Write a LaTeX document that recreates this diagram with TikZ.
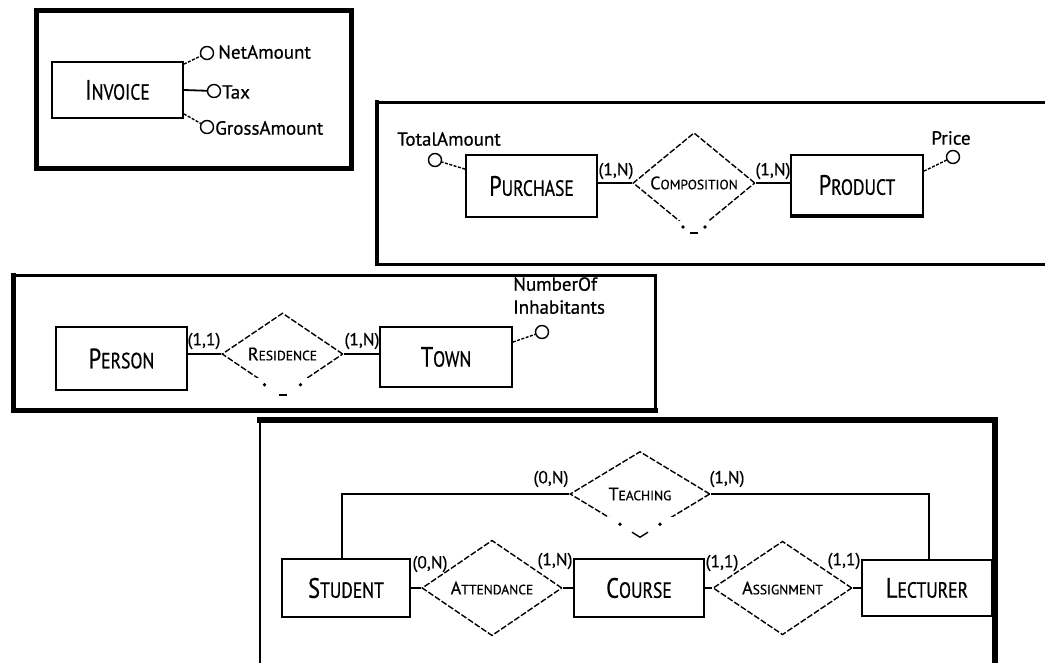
\documentclass[tikz,border=0pt]{standalone}
\usepackage{fontspec}
\setmainfont[FakeBold=0.6]{PT Sans}
\newfontfamily\entfont[FakeStretch=0.8,FakeBold=0.6]{PT Sans}
\usetikzlibrary{shapes.geometric}
\newcommand\entname[2]{{\entfont\fontsize{28}{30}\selectfont #1\fontsize{22}{24}\selectfont #2}}
\newcommand\relname[2]{{\fontsize{18}{20}\selectfont #1\fontsize{13.5}{15}\selectfont #2}}
\tikzset{
  entity/.style={draw, line width=1.8pt, minimum width=131pt, minimum height=59pt, inner sep=0pt},
  relation/.style={diamond, draw, line width=1.4pt, dash pattern=on 6pt off 2pt, inner sep=0pt, minimum width=140pt, minimum height=81pt},
  attrc/.style={circle, draw, line width=1.4pt, minimum size=13pt, inner sep=0pt, fill=white},
  attrtxt/.style={font=\fontsize{19}{23}\selectfont, inner sep=0pt},
  card/.style={font=\fontsize{17.5}{19}\selectfont, inner sep=0pt},
  link/.style={line width=1.8pt},
  alink/.style={line width=1.4pt, dash pattern=on 3pt off 1.5pt},
  gapdot/.style={fill=black}
}
\begin{document}
\begin{tikzpicture}[x=1pt,y=-1pt]
\useasboundingbox (0,0) rectangle (1045,662);
\clip (0,0) rectangle (1045,662);
\fill[white] (0,0) rectangle (1045,662);

% ---------- panel frames ----------
\draw[line width=5pt] (36,10) rectangle (351,168);
\draw[line width=3pt, line cap=rect] (377,102) -- (1050,102);
\draw[line width=3pt] (377,264) -- (1050,264);
\draw[line width=4.5pt, line cap=rect] (377,102) -- (377,264);
\draw[line width=3pt] (13,275) -- (655,275) -- (655,410);
\draw[line width=5pt, line cap=rect] (13,275) -- (13,410) -- (655,410);
\draw[line width=2.5pt] (260,420) -- (260,670);
\draw[line width=5.5pt, line cap=rect] (260,420) -- (995,420) -- (995,670);

% ---------- panel 1: INVOICE ----------
\node[entity, minimum height=56pt] (invoice) at (117.5,90) {\entname{I}{NVOICE}};
\node[attrc] (netc) at (207,53) {};
\node[attrtxt, anchor=west] (netl) at (218,52) {NetAmount};
\node[attrc] (taxc) at (214,91) {};
\node[attrtxt, anchor=west] (taxl) at (222,92) {Tax};
\node[attrc] (grossc) at (207,127) {};
\node[attrtxt, anchor=west] (grossl) at (215,128) {GrossAmount};
\draw[alink] ([yshift=-3pt]invoice.north east) -- (netc);
\draw[link] (invoice.east) -- (taxc);
\draw[alink] ([yshift=5pt]invoice.south east) -- (grossc);

% ---------- panel 2: PURCHASE / PRODUCT ----------
\node[entity, minimum height=62pt] (purchase) at (531.5,186) {\entname{P}{URCHASE}};
\node[entity, minimum width=132pt, minimum height=60pt] (product) at (857,185) {\entname{P}{RODUCT}};
\draw[line width=3.5pt] (product.south west) -- (product.south east);
\node[relation, minimum width=122pt, minimum height=74pt] (compo) at (694,183) {\relname{C}{OMPOSITION}};
% broken bottom of the diamond
\fill[white] ([xshift=-30pt,yshift=13pt]compo.south) rectangle ([xshift=30pt,yshift=-3pt]compo.south);
\fill[gapdot] ([xshift=-11pt,yshift=7pt]compo.south) circle (1.8pt);
\fill[gapdot] ([xshift=11pt,yshift=7pt]compo.south) circle (1.8pt);
\draw[line width=1.4pt] ([xshift=-4pt,yshift=1pt]compo.south) -- ([xshift=4pt,yshift=1pt]compo.south);
\draw[link] (compo.west) -- (compo.west -| purchase.east);
\draw[link] (compo.east) -- (compo.east -| product.west);
\node[card] (c1) at (616,171) {(1,N)};
\node[card] (c2) at (773,171) {(1,N)};
\node[attrc] (totc) at (435,160) {};
\node[attrtxt] (totl) at (449,139) {TotalAmount};
\draw[alink] ([yshift=-15pt]purchase.north west) -- (totc);
\node[attrc] (pricec) at (953,157) {};
\node[attrtxt] (pricel) at (951,138) {Price};
\draw[alink] ([yshift=-17pt]product.north east) -- (pricec);

% ---------- panel 3: PERSON / TOWN ----------
\node[entity, minimum height=63pt] (person) at (121.5,358.5) {\entname{P}{ERSON}};
\node[entity, minimum width=132pt, minimum height=60pt] (town) at (446,357) {\entname{T}{OWN}};
\node[relation, minimum width=121pt, minimum height=76pt] (resid) at (282.5,354) {\relname{R}{ESIDENCE}};
\fill[white] ([xshift=-34pt,yshift=18pt]resid.south) rectangle ([xshift=34pt,yshift=-3pt]resid.south);
\fill[gapdot] ([xshift=-18pt,yshift=11pt]resid.south) circle (1.8pt);
\fill[gapdot] ([xshift=18pt,yshift=11pt]resid.south) circle (1.8pt);
\draw[line width=1.6pt] ([xshift=-4pt,yshift=1pt]resid.south) -- ([xshift=4pt,yshift=1pt]resid.south);
\draw[link] (resid.west) -- (resid.west -| person.east);
\draw[link] (resid.east) -- (resid.east -| town.west);
\node[card] (c3) at (204,341) {(1,1)};
\node[card] (c4) at (362,341) {(1,N)};
\node[attrc] (inhc) at (542,332) {};
\node[attrtxt, anchor=north west, align=left] (inhl) at (513,277) {NumberOf\\Inhabitants};
\draw[alink] ([yshift=-16pt]town.north east) -- (inhc);

% ---------- panel 4: STUDENT / COURSE / LECTURER ----------
\node[entity, minimum width=128pt, minimum height=58pt] (student) at (346,588) {\entname{S}{TUDENT}};
\node[entity, minimum width=130pt, minimum height=58pt] (course) at (639,588) {\entname{C}{OURSE}};
\node[entity, minimum width=130pt, minimum height=56pt] (lecturer) at (927,588) {\entname{L}{ECTURER}};
\node[relation, minimum height=85pt] (teach) at (640,494) {\relname{T}{EACHING}};
\fill[white] ([xshift=-36pt,yshift=20pt]teach.south) rectangle ([xshift=36pt,yshift=-3pt]teach.south);
\fill[gapdot] ([xshift=-20pt,yshift=13pt]teach.south) circle (1.8pt);
\fill[gapdot] ([xshift=20pt,yshift=13pt]teach.south) circle (1.8pt);
\draw[line width=1.4pt] ([xshift=-8pt,yshift=5pt]teach.south) -- (teach.south) -- ([xshift=8pt,yshift=5pt]teach.south);
\node[relation] (attend) at (492,588) {\relname{A}{TTENDANCE}};
\node[relation, minimum width=139pt] (assign) at (782.5,588) {\relname{A}{SSIGNMENT}};
\draw[link] ([xshift=-4pt]student.north) |- (teach.west);
\draw[link] (teach.east) -| ([xshift=2pt]lecturer.north);
\draw[link] (attend.west) -- (student.east);
\draw[link] (attend.east) -- (course.west);
\draw[link] (assign.west) -- (course.east);
\draw[link] (assign.east) -- (lecturer.west);
\node[card] (c5) at (551,479) {(0,N)};
\node[card] (c6) at (727,479) {(1,N)};
\node[card] (c7) at (430,564) {(0,N)};
\node[card] (c8) at (555,561) {(1,N)};
\node[card] (c9) at (722,563) {(1,1)};
\node[card] (c10) at (844,561) {(1,1)};
\end{tikzpicture}
\end{document}
